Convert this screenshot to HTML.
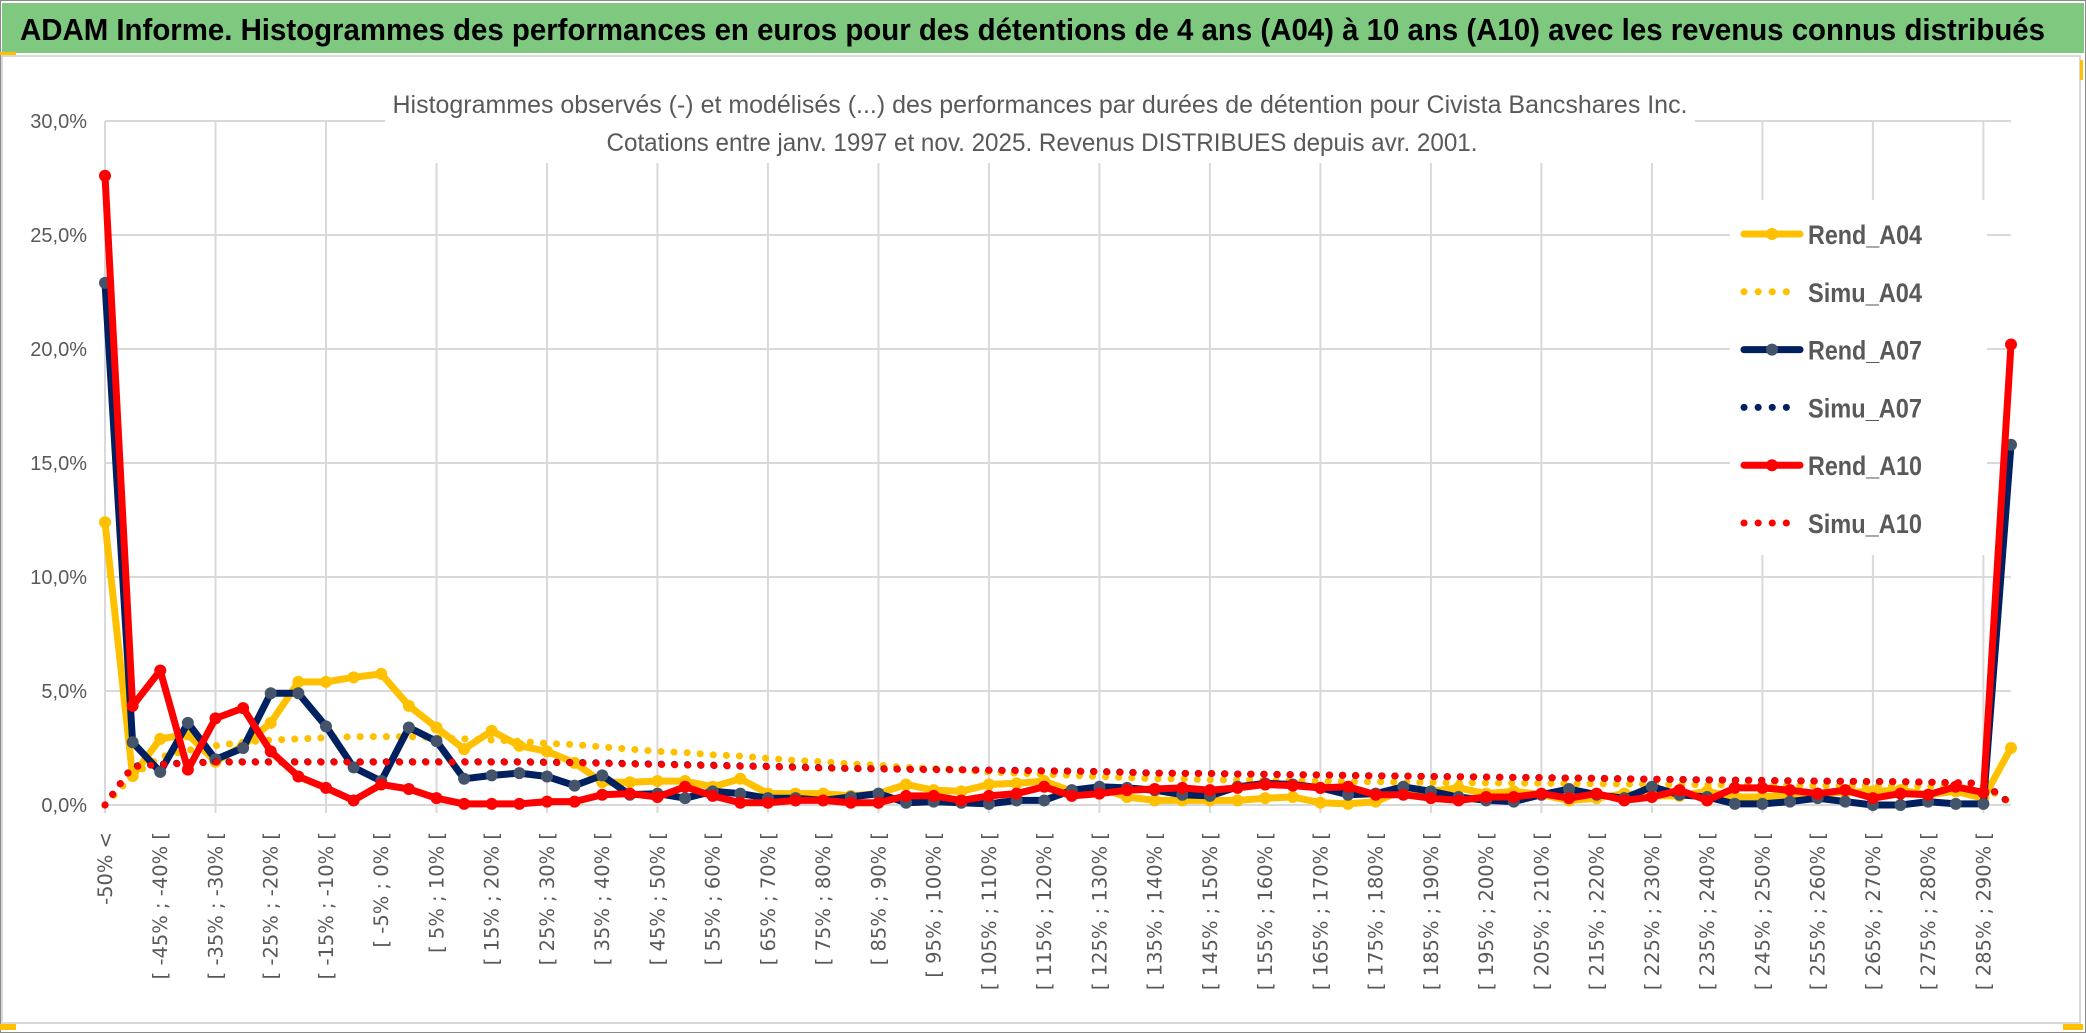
<!DOCTYPE html>
<html><head><meta charset="utf-8">
<style>
html,body{margin:0;padding:0;background:#fff;width:2086px;height:1033px;overflow:hidden}
svg{display:block}
</style></head>
<body>
<svg id="chart" width="2086" height="1033" xmlns="http://www.w3.org/2000/svg">
  <rect x="0.5" y="0.5" width="2085" height="1032" fill="#fff" stroke="#8a8a8a" stroke-width="1"/>
  <rect x="2" y="3" width="2082" height="50" fill="#7ec87f"/>
  <text x="20" y="40" font-family="Liberation Sans, sans-serif" font-weight="bold" font-size="31" fill="#000" textLength="2025" lengthAdjust="spacingAndGlyphs">ADAM Informe. Histogrammes des performances en euros pour des détentions de 4 ans (A04) à 10 ans (A10) avec les revenus connus distribués</text>
  <rect x="2" y="56" width="2078" height="967" fill="#fff" stroke="#d9d9d9" stroke-width="2"/>
  <rect x="0" y="52" width="16" height="3" fill="#ffc000"/>
  <rect x="0" y="1024" width="16" height="6" fill="#ffc000"/>
  <rect x="2063" y="1024" width="20" height="6" fill="#ffc000"/>
  <rect x="2080" y="60" width="3" height="20" fill="#ffc000"/>
  <g id="grid"></g>
  <rect x="385" y="75" width="1310" height="88" fill="#fff"/>
  <text x="1040" y="113" text-anchor="middle" font-family="Liberation Sans, sans-serif" font-size="25" fill="#595959" textLength="1295" lengthAdjust="spacingAndGlyphs">Histogrammes observés (-) et modélisés (...) des performances par durées de détention pour Civista Bancshares Inc.</text>
  <text x="1042" y="151" text-anchor="middle" font-family="Liberation Sans, sans-serif" font-size="25" fill="#595959" textLength="871" lengthAdjust="spacingAndGlyphs">Cotations entre janv. 1997 et nov. 2025. Revenus DISTRIBUES depuis avr. 2001.</text>
  <g id="yaxis"></g>
  <g id="xaxis"></g>
  <g id="series"></g>
  <rect x="1730" y="200" width="257" height="355" fill="#fff"/>
  <g id="legend"></g>
</svg>
<script>
const yTicks = [0,5,10,15,20,25,30];
const yTickLabels = ["0,0%","5,0%","10,0%","15,0%","20,0%","25,0%","30,0%"];
const rendA04 = [12.4,1.27,2.9,3.1,1.9,2.6,3.6,5.4,5.4,5.6,5.75,4.35,3.4,2.45,3.25,2.6,2.35,1.85,1.0,1.0,1.05,1.05,0.8,1.15,0.5,0.5,0.5,0.4,0.5,0.9,0.65,0.6,0.9,0.95,1.05,0.6,0.75,0.35,0.2,0.2,0.2,0.2,0.3,0.35,0.1,0.05,0.15,0.65,0.6,0.75,0.5,0.6,0.45,0.2,0.3,0.5,0.4,0.4,0.6,0.35,0.35,0.45,0.5,0.55,0.6,0.65,0.45,0.6,0.3,2.5];
const simuA04 = [0,1.3,2.1,2.4,2.6,2.75,2.85,2.9,2.95,3.0,3.0,3.0,2.95,2.9,2.85,2.8,2.7,2.65,2.55,2.45,2.35,2.3,2.2,2.15,2.05,1.95,1.9,1.8,1.75,1.65,1.6,1.55,1.45,1.4,1.35,1.3,1.25,1.2,1.15,1.15,1.1,1.1,1.08,1.06,1.05,1.03,1.02,1.0,0.99,0.98,0.97,0.96,0.95,0.94,0.93,0.92,0.91,0.9,0.89,0.88,0.87,0.86,0.85,0.85,0.84,0.83,0.82,0.81,0.8,0.1];
const rendA07 = [22.9,2.75,1.45,3.6,2.0,2.5,4.9,4.9,3.45,1.65,1.05,3.4,2.8,1.15,1.3,1.4,1.25,0.85,1.3,0.45,0.5,0.3,0.6,0.5,0.3,0.3,0.2,0.35,0.5,0.1,0.15,0.1,0.05,0.2,0.2,0.65,0.8,0.75,0.65,0.45,0.4,0.8,0.95,0.9,0.75,0.45,0.5,0.8,0.6,0.35,0.2,0.15,0.45,0.7,0.45,0.3,0.8,0.45,0.35,0.05,0.05,0.15,0.3,0.15,0.0,0.0,0.15,0.05,0.05,15.8];
const simuA07 = [0,1.7,1.8,1.85,1.9,1.9,1.9,1.9,1.9,1.9,1.9,1.9,1.9,1.9,1.9,1.9,1.88,1.87,1.85,1.82,1.8,1.77,1.75,1.72,1.7,1.67,1.64,1.6,1.59,1.57,1.56,1.55,1.53,1.52,1.5,1.49,1.47,1.44,1.4,1.39,1.38,1.36,1.35,1.33,1.32,1.3,1.28,1.27,1.25,1.24,1.23,1.21,1.2,1.18,1.17,1.15,1.13,1.12,1.1,1.09,1.08,1.06,1.05,1.04,1.03,1.02,1.0,0.98,0.95,0.05];
const rendA10 = [27.6,4.35,5.9,1.55,3.8,4.25,2.35,1.25,0.75,0.2,0.9,0.7,0.3,0.05,0.05,0.05,0.15,0.15,0.45,0.5,0.35,0.8,0.4,0.1,0.1,0.2,0.2,0.1,0.1,0.4,0.4,0.2,0.4,0.5,0.8,0.4,0.5,0.65,0.7,0.75,0.65,0.75,0.9,0.85,0.75,0.8,0.45,0.45,0.3,0.2,0.35,0.35,0.5,0.3,0.5,0.2,0.35,0.65,0.2,0.75,0.75,0.65,0.5,0.65,0.3,0.5,0.45,0.8,0.55,20.2];
const simuA10 = [0,1.68,1.78,1.83,1.88,1.88,1.88,1.88,1.88,1.88,1.88,1.88,1.88,1.88,1.88,1.88,1.86,1.85,1.83,1.8,1.78,1.75,1.73,1.7,1.68,1.65,1.62,1.6,1.58,1.56,1.55,1.54,1.52,1.51,1.49,1.48,1.46,1.43,1.4,1.39,1.38,1.36,1.35,1.33,1.32,1.3,1.28,1.27,1.25,1.24,1.23,1.21,1.2,1.18,1.17,1.15,1.13,1.12,1.1,1.09,1.08,1.06,1.05,1.04,1.03,1.02,1.0,0.98,0.95,0.05];
const seriesNames = ["Rend_A04","Simu_A04","Rend_A07","Simu_A07","Rend_A10","Simu_A10"];

const categories = ["-50% <"];
for (let a = -50; a <= 285; a += 5) categories.push("[ " + a + "% ; " + (a + 5) + "% [");
categories.push("> 290%");

const NS = "http://www.w3.org/2000/svg";
const X0 = 105, X1 = 2011, Y0 = 805, Y30 = 121;
const step = (X1 - X0) / (categories.length - 1);
function xs(i){ return X0 + i * step; }
function ys(v){ return Y0 - v * (Y0 - Y30) / 30; }
function mk(tag, attrs, parent){
  const e = document.createElementNS(NS, tag);
  for (const k in attrs) e.setAttribute(k, attrs[k]);
  parent.appendChild(e);
  return e;
}
const grid = document.getElementById('grid');
const yaxis = document.getElementById('yaxis');
const xaxis = document.getElementById('xaxis');
const seriesG = document.getElementById('series');
const legend = document.getElementById('legend');

yTicks.forEach((t, k) => {
  const l = mk('line', {x1: X0, x2: X1, y1: ys(t), y2: ys(t), stroke: '#d9d9d9', 'stroke-width': 2}, grid);
  
  
  const tx = mk('text', {x: 87, y: ys(t) + 7, 'text-anchor': 'end', 'font-family': 'Liberation Sans, sans-serif', 'font-size': 20, fill: '#595959'}, yaxis);
  tx.textContent = yTickLabels[k];
  
  
});
for (let i = 0; i < categories.length; i += 4) {
  const l = mk('line', {x1: xs(i), x2: xs(i), y1: Y30, y2: Y0 + 8, stroke: '#d9d9d9', 'stroke-width': 2}, grid);
  
  
}
for (let i = 0; i < categories.length; i += 2) {
  const x = xs(i) + 7, y = 832;
  const tx = mk('text', {x: x, y: y, transform: 'rotate(-90 ' + x + ' ' + y + ')', 'text-anchor': 'end', 'font-family': 'DejaVu Sans, sans-serif', 'font-size': 19.5, fill: '#595959'}, xaxis);
  tx.textContent = categories[i];
  
  
}

const defs = [
  {vals: rendA04, color: '#ffc000', mcol: '#ffc000', dotted: false},
  {vals: simuA04, color: '#ffc000', dotted: true},
  {vals: rendA07, color: '#002060', mcol: '#44546a', dotted: false},
  {vals: simuA07, color: '#002060', dotted: true},
  {vals: rendA10, color: '#ff0000', mcol: '#ff0000', dotted: false},
  {vals: simuA10, color: '#ff0000', dotted: true}
];
defs.forEach((d, s) => {
  const g = mk('g', {}, seriesG);
  
  
  const pts = d.vals.map((v, i) => xs(i).toFixed(1) + ',' + ys(v).toFixed(1)).join(' ');
  const pl = mk('polyline', {points: pts, fill: 'none', stroke: d.color, 'stroke-width': 7, 'stroke-linejoin': 'round', 'stroke-linecap': 'round'}, g);
  if (d.dotted) pl.setAttribute('stroke-dasharray', '0.1 13');
  
  
  if (!d.dotted) {
    d.vals.forEach((v, i) => {
      const c = mk('circle', {cx: xs(i), cy: ys(v), r: 6, fill: d.mcol}, g);
      
      
    });
  }
  const ly = 234 + s * 57.8;
  const lg = mk('g', {}, legend);
  
  
  const ll = mk('line', {x1: 1744, x2: 1800, y1: ly, y2: ly, stroke: d.color, 'stroke-width': 7, 'stroke-linecap': 'round'}, lg);
  if (d.dotted) ll.setAttribute('stroke-dasharray', '0.1 14');
  
  
  if (!d.dotted) {
    const c = mk('circle', {cx: 1772, cy: ly, r: 6, fill: d.mcol}, lg);
    
    
  }
  const t = mk('text', {x: 1808, y: ly + 10, 'font-family': 'Liberation Sans, sans-serif', 'font-weight': 'bold', 'font-size': 27, fill: '#595959', textLength: 114, lengthAdjust: 'spacingAndGlyphs'}, lg);
  t.textContent = seriesNames[s];
  
  
});
</script>
</body></html>
